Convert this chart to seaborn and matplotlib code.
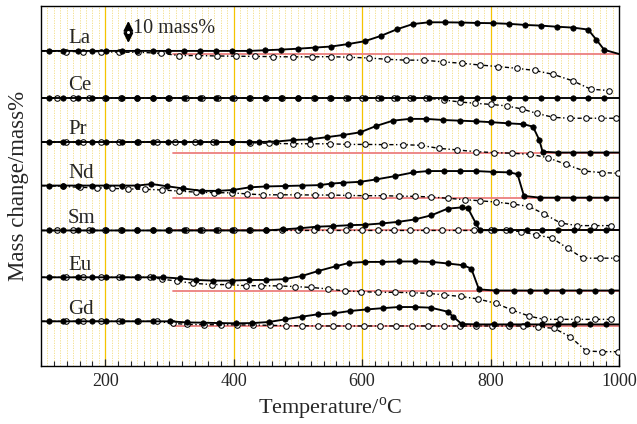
import numpy as np
import matplotlib
matplotlib.use("Agg")
import matplotlib.pyplot as plt
import seaborn as sns
from matplotlib.ticker import MultipleLocator

sns.set_style("white")
plt.rcParams["font.family"] = ["Liberation Serif", "DejaVu Serif"]
plt.rcParams["mathtext.fontset"] = "custom"
plt.rcParams["mathtext.rm"] = "Liberation Serif"

# ---------------- data (mass change, mass%) ----------------
elements = ["La", "Ce", "Pr", "Nd", "Sm", "Eu", "Gd"]
offsets = [143.2, 121.8, 101.8, 82.0, 61.6, 40.3, 20.3]

la_T = [100, 113, 135, 157, 179, 201, 226, 250, 274, 298, 323, 348, 373, 398, 424, 449, 474, 500, 526, 552,
        578, 604, 629, 654, 679, 704, 729, 754, 779, 804, 829, 854, 878, 903, 928, 952, 965, 977, 1000]
la_m = [0, 0, 0, 0, 0, 0, 0, 0, 0, 0, 0, 0, 0, 0, 0, 0.3, 0.6, 1.0, 1.5, 2.0,
        3.1, 4.4, 6.8, 9.8, 12.2, 13.0, 13.0, 12.9, 12.7, 12.6, 12.3, 11.8, 11.5, 11.0, 10.6, 9.7, 5.0, 0.5, -1.4]
la_oT = [100, 139, 166, 193, 222, 251, 287, 315, 344, 374, 403, 433, 461, 492, 522, 551, 580, 610, 638, 668,
         696, 726, 755, 783, 811, 841, 869, 898, 928, 956, 984]
la_om = [0, -0.3, -0.3, -0.3, -0.6, -0.6, -1.1, -2.1, -2.1, -2.3, -2.4, -2.5, -2.6, -2.7, -2.7, -2.6, -2.9, -3.2, -3.8, -4.2,
         -4.2, -5.0, -5.6, -6.4, -7.1, -7.9, -8.9, -10.7, -13.6, -17.4, -18.0]

ce_T = [100, 113, 135, 157, 179, 201, 226, 250, 274, 298, 323, 348, 373, 398, 424, 449, 474, 500, 526, 552,
        578, 604, 629, 654, 679, 704, 729, 754, 779, 804, 829, 854, 878, 903, 928, 952, 977, 1000]
ce_m = [0, 0, 0, 0, 0, 0, 0, 0, 0, 0, 0, 0, 0, 0, 0, 0, 0, 0, 0, 0,
        0, 0, 0, 0, 0, 0, 0, 0, 0, 0, 0, 0, 0, 0, 0, 0, 0, 0]
ce_oT = [100, 125, 150, 175, 200, 225, 250, 275, 300, 325, 350, 375, 400, 425, 450, 475, 500, 525, 550, 575,
         600, 625, 650, 675, 700, 727, 752, 776, 800, 825, 849, 872, 898, 923, 948, 972, 996]
ce_om = [0, 0, 0, 0, 0, 0, 0, 0, 0, 0, 0, 0, 0, 0, 0, 0, 0, 0, 0, 0,
         0, 0, 0, 0, 0, -0.9, -1.8, -2.4, -2.9, -3.6, -5.0, -7.0, -8.8, -9.2, -9.2, -9.2, -9.2]

pr_T = [100, 113, 135, 157, 179, 201, 226, 250, 274, 298, 323, 348, 373, 398, 424, 440, 466, 492, 519, 545,
        571, 597, 622, 648, 674, 700, 726, 752, 778, 801, 827, 851, 866, 876, 881, 905, 928, 955, 980, 1000]
pr_m = [0, 0, 0, 0, 0, 0, 0, 0, 0, 0, 0, 0, 0, 0, 0, 0, 0.2, 0.9, 1.2, 2.2,
        3.2, 4.4, 7.3, 9.7, 10.5, 10.5, 10.0, 9.7, 9.4, 9.0, 8.5, 8.1, 7.0, 0.9, -4.4, -4.8, -4.8, -4.8, -4.8, -4.8]
pr_oT = [100, 139, 166, 193, 222, 251, 280, 309, 339, 368, 397, 426, 455, 492, 519, 550, 577, 605, 634, 663,
         691, 720, 748, 777, 805, 833, 862, 889, 917, 946, 973, 999]
pr_om = [0, 0, 0, 0, 0, 0, 0, 0, 0, 0, 0, -0.3, -0.6, -0.8, -0.8, -0.8, -1.1, -1.1, -1.2, -1.2,
         -1.5, -2.9, -3.6, -4.4, -4.8, -5.1, -5.6, -7.1, -10.1, -13.2, -13.9, -14.2]

nd_T = [100, 113, 135, 157, 179, 201, 226, 250, 272, 296, 321, 350, 376, 399, 425, 451, 480, 506, 534, 552,
        571, 597, 622, 651, 680, 703, 727, 752, 778, 804, 829, 842, 852, 877, 903, 928, 954, 980, 1000]
nd_m = [0, 0, 0, 0, 0, 0, 0, 0, 0.7, -0.3, -1.3, -2.4, -2.4, -2.0, -0.8, -0.4, -0.2, 0, 0.2, 0.9,
        1.3, 1.7, 2.8, 4.3, 6.0, 6.6, 6.6, 6.6, 6.6, 6.2, 6.0, 5.2, -4.7, -5.5, -5.5, -5.5, -5.5, -5.5, -5.5]
nd_oT = [100, 135, 161, 187, 210, 236, 262, 288, 315, 342, 369, 397, 421, 446, 472, 498, 526, 552, 578, 604,
         633, 657, 682, 708, 734, 760, 783, 809, 835, 860, 884, 909, 935, 961, 987]
nd_om = [0, -0.4, -0.8, -1.0, -1.3, -1.5, -1.7, -2.0, -2.5, -3.0, -3.2, -3.3, -3.8, -4.2, -4.2, -4.2, -4.3, -4.3, -4.5, -4.6,
         -4.6, -4.8, -4.9, -5.2, -5.8, -6.4, -6.9, -7.5, -8.4, -9.5, -13.0, -17.0, -18.2, -18.2, -18.2]

sm_T = [100, 113, 135, 157, 179, 201, 226, 250, 274, 298, 323, 348, 373, 398, 424, 451, 477, 503, 529, 555,
        581, 605, 631, 656, 682, 708, 733, 756, 765, 777, 783, 806, 831, 856, 880, 905, 930, 955, 980, 1000]
sm_m = [0, 0, 0, 0, 0, 0, 0, 0, 0, 0, 0, 0, 0, 0, 0, 0, 0.5, 1.0, 1.7, 2.0,
        2.4, 2.6, 3.2, 3.9, 5.0, 6.9, 9.9, 10.5, 10.0, 3.3, 0.2, 0.2, 0.2, 0.2, 0.2, 0.2, 0.2, 0.2, 0.2, 0.2]
sm_oT = [100, 125, 150, 175, 200, 225, 250, 275, 300, 325, 350, 375, 400, 425, 450, 475, 500, 525, 550, 575,
         600, 625, 650, 675, 700, 725, 750, 775, 800, 824, 848, 871, 896, 920, 944, 971, 995]
sm_om = [0, 0, 0, 0, 0, 0, 0, 0, 0, 0, 0, 0, 0, 0, 0, 0, 0, 0, 0, 0,
         0, 0, 0, 0, 0, 0, 0, 0, 0, 0, -0.5, -2.0, -3.5, -8.1, -12.6, -12.6, -12.6]

eu_T = [100, 113, 135, 157, 179, 201, 226, 250, 274, 290, 316, 342, 368, 397, 424, 451, 480, 506, 532, 560,
        579, 605, 631, 657, 683, 709, 733, 757, 770, 782, 808, 837, 862, 887, 912, 937, 962, 987, 1000]
eu_m = [0, 0, 0, 0, 0, 0, 0, 0, 0, 0, -0.5, -1.2, -1.5, -1.5, -1.2, -1.2, -0.8, 0.6, 2.9, 5.1,
        6.5, 7.0, 7.0, 7.2, 7.2, 7.0, 6.3, 5.5, 4.0, -5.5, -6.0, -6.0, -6.0, -6.0, -6.0, -6.0, -6.0, -6.0, -6.0]
eu_oT = [100, 139, 166, 193, 222, 251, 270, 288, 311, 337, 366, 391, 419, 443, 471, 495, 521, 547, 573, 599,
         625, 651, 678, 704, 728, 754, 780, 808, 833, 860, 883, 908, 935, 962, 987]
eu_om = [0, 0, 0, 0, 0, 0, 0, -0.8, -1.7, -2.7, -3.3, -3.3, -3.8, -3.8, -3.9, -4.2, -4.6, -5.3, -6.2, -6.5,
         -6.8, -6.8, -7.0, -7.3, -8.0, -8.7, -9.8, -11.8, -14.8, -17.6, -19.1, -19.1, -19.1, -19.1, -19.1]

gd_T = [100, 113, 135, 157, 179, 201, 226, 250, 274, 301, 327, 352, 377, 403, 429, 455, 480, 506, 531, 556,
        581, 607, 633, 657, 682, 707, 733, 742, 755, 778, 806, 831, 856, 880, 905, 930, 955, 980, 1000]
gd_m = [0, 0, 0, 0, 0, 0, 0, 0, 0, 0, -0.5, -0.6, -0.8, -0.9, -0.8, -0.3, 0.9, 2.1, 3.2, 3.6,
        4.7, 5.4, 6.0, 6.5, 6.5, 6.2, 4.4, 2.1, -1.2, -1.4, -1.4, -1.4, -1.4, -1.4, -1.4, -1.4, -1.4, -1.4, -1.4]
gd_oT = [100, 139, 166, 193, 222, 251, 280, 305, 327, 354, 380, 405, 430, 456, 482, 507, 532, 555, 578, 603,
         628, 653, 678, 703, 728, 753, 778, 803, 828, 851, 874, 899, 924, 949, 974, 999]
gd_om = [0, 0, 0, 0, 0, 0, 0, -0.9, -1.4, -1.5, -1.6, -1.6, -1.7, -1.8, -2.0, -2.0, -2.1, -2.1, -2.1, -2.1,
         -2.1, -2.1, -2.1, -2.1, -2.1, -2.1, -2.1, -2.1, -2.1, -2.1, -2.5, -3.2, -7.0, -13.5, -13.8, -13.8]

# reference (red) levels, None = no line
red_T = [305, 1000]
red_levels = [-1.4, None, -5.1, -5.5, 0.2, -6.0, -2.0]

solid_T = [la_T, ce_T, pr_T, nd_T, sm_T, eu_T, gd_T]
solid_m = [la_m, ce_m, pr_m, nd_m, sm_m, eu_m, gd_m]
open_T = [la_oT, ce_oT, pr_oT, nd_oT, sm_oT, eu_oT, gd_oT]
open_m = [la_om, ce_om, pr_om, nd_om, sm_om, eu_om, gd_om]

scale_bar = 10.0  # mass%

# ---------------- figure ----------------
fig = plt.figure(figsize=(6.37, 4.24), dpi=100)
ax = fig.add_axes([0.0644, 0.1368, 0.9073, 0.849])
ax.set_xlim(100, 1000)
ax.set_ylim(0, 163.6)

# yellow vertical grid
for g in np.arange(110, 1000, 10):
    if g % 200 == 0:
        ax.axvline(g, color="#f5c400", lw=0.9, zorder=0)
    else:
        ax.axvline(g, color="#f3dc80", lw=0.6, ls=(0, (1.5, 1.5)), zorder=0)

for i, el in enumerate(elements):
    off = offsets[i]
    if red_levels[i] is not None:
        sns.lineplot(x=red_T, y=[red_levels[i] + off] * 2, ax=ax, color="#ec7f7f",
                     lw=1.3, zorder=1, estimator=None)
    sns.lineplot(x=open_T[i], y=np.array(open_m[i]) + off, ax=ax, color="black", lw=1.0,
                 linestyle=(0, (3, 1.8, 1, 1.8)), marker="o", markersize=4.0,
                 markerfacecolor="white", markeredgecolor="black", markeredgewidth=0.75,
                 markevery=slice(1, None), zorder=3, estimator=None, sort=False)
    sns.lineplot(x=solid_T[i], y=np.array(solid_m[i]) + off, ax=ax, color="black", lw=1.35,
                 marker="o", markersize=3.9, markerfacecolor="black", markeredgecolor="black",
                 markeredgewidth=0.5, markevery=slice(1, -1), zorder=4, estimator=None, sort=False)
    ax.text(142, off + 5.5, el, fontsize=15, ha="left", va="center", zorder=5)

# scale bar
x_bar = 236
y_top = 156.8
ax.annotate("", xy=(x_bar, y_top - scale_bar), xytext=(x_bar, y_top),
            arrowprops=dict(arrowstyle="<|-|>", color="black", lw=1.4,
                            mutation_scale=14, shrinkA=0, shrinkB=0), zorder=6)
ax.plot([x_bar], [y_top - scale_bar / 2], marker="o", ms=3.0, mfc="white", mec="black",
        mew=0.8, zorder=7)
ax.text(243, 153.2, "10 mass%", fontsize=14.5, ha="left", va="center")

# axes styling
ax.set_yticks([])
ax.set_xticks([200, 400, 600, 800, 1000])
ax.xaxis.set_minor_locator(MultipleLocator(20))
ax.tick_params(axis="x", which="major", direction="in", length=5, width=0.9,
               labelsize=13, bottom=True, top=False, pad=5)
ax.tick_params(axis="x", which="minor", direction="in", length=3.5, width=0.8,
               bottom=True, top=False)
for s in ax.spines.values():
    s.set_color("black")
    s.set_linewidth(1.0)
ax.set_xlabel("Temperature/$^{\\rm o}$C", fontsize=16, labelpad=4)
ax.set_ylabel("Mass change/mass%", fontsize=16.5, labelpad=9)

fig.savefig("out.png", dpi=100)
